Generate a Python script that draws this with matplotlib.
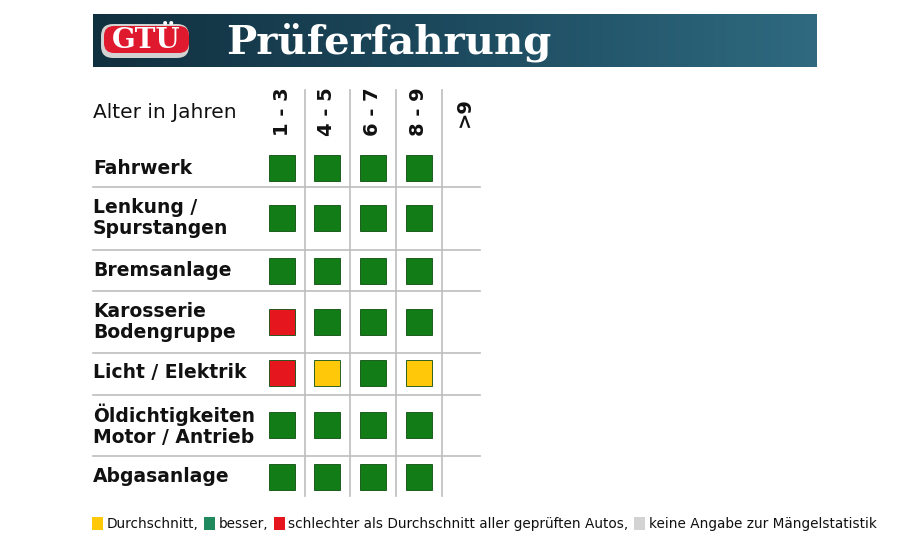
import numpy as np
import matplotlib.pyplot as plt
from matplotlib.patches import Rectangle, FancyBboxPatch

# data
rows = ["Fahrwerk", "Lenkung /\nSpurstangen", "Bremsanlage", "Karosserie\nBodengruppe",
        "Licht / Elektrik", "Öldichtigkeiten\nMotor / Antrieb", "Abgasanlage"]
ages = ["1 - 3", "4 - 5", "6 - 7", "8 - 9", ">9"]
status = [
    ["g", "g", "g", "g", ""],
    ["g", "g", "g", "g", ""],
    ["g", "g", "g", "g", ""],
    ["r", "g", "g", "g", ""],
    ["r", "y", "g", "y", ""],
    ["g", "g", "g", "g", ""],
    ["g", "g", "g", "g", ""],
]
colors = {"g": "#127d16", "y": "#ffc90a", "r": "#e5161d", "n": "#d3d3d3", "b": "#1e8a5e"}
legend_items = [("y", "Durchschnitt,"), ("b", "besser,"),
                ("r", "schlechter als Durchschnitt aller geprüften Autos,"),
                ("n", "keine Angabe zur Mängelstatistik")]

font = ["Liberation Sans Narrow", "DejaVu Sans"]

fig = plt.figure(figsize=(9.1, 5.48), dpi=100)
ax = fig.add_axes([0, 0, 1, 1])
ax.set_xlim(0, 910)
ax.set_ylim(548, 0)
ax.axis("off")

# header band with gradient
grad = np.linspace(0, 1, 256).reshape(1, -1)
ax.imshow(grad, extent=[93, 817, 67, 14], cmap=plt.matplotlib.colors.LinearSegmentedColormap.from_list(
    "h", ["#11303f", "#1d4a5e", "#2f6a80"]), aspect="auto", zorder=1)
ax.add_patch(FancyBboxPatch((101, 24), 88, 34, boxstyle="round,pad=0,rounding_size=12",
                            fc="#d2d2d2", ec="none", zorder=2))
ax.add_patch(FancyBboxPatch((104, 26), 85, 27, boxstyle="round,pad=0,rounding_size=10",
                            fc="#e01a2e", ec="none", zorder=3))
ax.text(146, 40, "GTÜ", color="white", fontsize=20, fontweight="bold", family="DejaVu Serif",
        ha="center", va="center", zorder=4)
ax.text(226, 42, "Prüferfahrung", color="white", fontsize=29, fontweight="bold",
        family="DejaVu Serif", ha="left", va="center", zorder=4)

# grid geometry
col_x = [282, 327, 373, 419, 464]
row_y = [168, 218, 271, 322, 373, 425, 477]
hlines = [187, 250, 291, 353, 395, 456]
vlines = [305, 350, 396, 442]

for y in hlines:
    ax.plot([93, 480], [y, y], color="#bdbdbd", lw=1.2)
for x in vlines:
    ax.plot([x, x], [90, 496], color="#bdbdbd", lw=1.2)

ax.text(93, 112, "Alter in Jahren", fontsize=14.5, family=font, ha="left", va="center", color="#111")
for x, a in zip(col_x, ages):
    ax.text(x, 112, a, rotation=90, fontsize=14, fontweight="bold",
            family=font, ha="center", va="center", color="#111")

for y, name in zip(row_y, rows):
    ax.text(93, y, name, fontsize=13.5, fontweight="bold", family=font, ha="left", va="center",
            color="#111", linespacing=1.15)

s = 26
for i, y in enumerate(row_y):
    for j, x in enumerate(col_x):
        c = status[i][j]
        if c:
            ax.add_patch(Rectangle((x - s / 2, y - s / 2), s, s, fc=colors[c], ec="#0b4d0e", lw=0.6))

# legend
x = 92
for key, label in legend_items:
    ax.add_patch(Rectangle((x, 517), 11, 13, fc=colors[key], ec="none"))
    t = ax.text(x + 15, 524, label, fontsize=9.8, family=font, ha="left", va="center", color="#111")
    fig.canvas.draw()
    bb = t.get_window_extent()
    x = bb.x1 + 5

fig.savefig("out.png", dpi=100)
